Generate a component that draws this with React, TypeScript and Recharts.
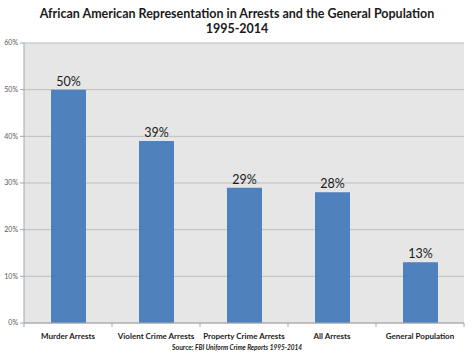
import { BarChart, Bar, XAxis, YAxis, CartesianGrid, LabelList } from 'recharts';

const categories = ['Murder Arrests', 'Violent Crime Arrests', 'Property Crime Arrests', 'All Arrests', 'General Population'];
const shares = [50, 39, 29, 28, 13];
const yTicks = [0, 10, 20, 30, 40, 50, 60];

const data = categories.map((name, i) => ({ name, value: shares[i] }));

const FONT = 'Lato, "Open Sans", sans-serif';
const HALF_BAND = 44;

function CategoryTick(props: any) {
  const { x, y, payload, index } = props;
  const top = y - 2;
  return (
    <g>
      <line x1={x - HALF_BAND} x2={x - HALF_BAND} y1={top} y2={top + 4} stroke="#a6a6a6" />
      {index === categories.length - 1 && (
        <line x1={x + HALF_BAND} x2={x + HALF_BAND} y1={top} y2={top + 4} stroke="#a6a6a6" />
      )}
      <text x={x} y={top + 16} textAnchor="middle" fontSize={8} fontWeight={700} fill="#1a1a1a" fontFamily={FONT}>
        {payload.value}
      </text>
    </g>
  );
}

export default function App() {
  return (
    <div style={{ position: 'absolute', left: 0, top: 0, width: 474, height: 355, background: '#fff', fontFamily: FONT }}>
      <div style={{ position: 'absolute', top: 6, left: 0, width: 474, textAlign: 'center', fontSize: 12.5, fontWeight: 700, lineHeight: '15px', color: '#1a1a1a' }}>
        African American Representation in Arrests and the General Population
        <br />
        1995-2014
      </div>
      <BarChart width={474} height={355} data={data} margin={{ top: 43, right: 10, bottom: 2, left: 0 }}>
        <CartesianGrid vertical={false} fill="#e6e6e6" stroke="#bdbdbd" />
        <XAxis dataKey="name" height={30} tickLine={false} tickSize={0} axisLine={{ stroke: '#a6a6a6' }} tick={<CategoryTick />} interval={0} />
        <YAxis
          width={24}
          domain={[0, 60]}
          ticks={yTicks}
          tickFormatter={(v) => `${v}%`}
          tick={{ fontSize: 7, fill: '#595959', fontFamily: FONT }}
          tickSize={4}
          tickLine={{ stroke: '#a6a6a6' }}
          axisLine={{ stroke: '#a6a6a6' }}
        />
        <Bar dataKey="value" fill="#4f81bd" barSize={35} isAnimationActive={false}>
          <LabelList dataKey="value" position="top" offset={4} formatter={(v: any) => `${v}%`} fontSize={12.5} fill="#1a1a1a" fontFamily={FONT} />
        </Bar>
      </BarChart>
      <div style={{ position: 'absolute', top: 344, left: 0, width: 474, textAlign: 'center', fontSize: 6.5, fontWeight: 700, color: '#1a1a1a' }}>
        Source: <i>FBI Uniform Crime Reports 1995-2014</i>
      </div>
    </div>
  );
}
